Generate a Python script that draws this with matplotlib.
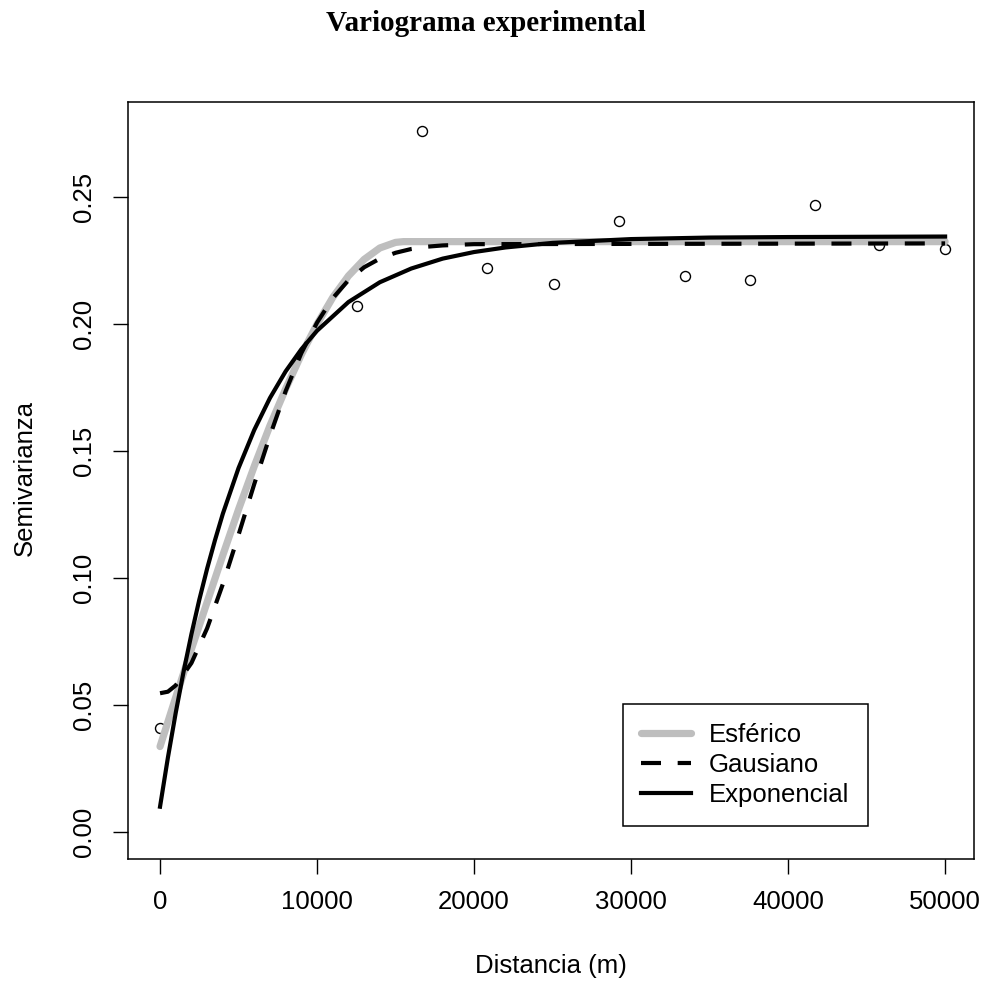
import matplotlib
matplotlib.use('Agg')
import matplotlib.pyplot as plt

# experimental variogram (points)
dist = [0, 12540, 16700, 20850, 25080, 29250, 33420, 37570, 41740, 45810, 50000]
gamma = [0.0410, 0.2073, 0.2762, 0.2223, 0.2160, 0.2406, 0.2191, 0.2173, 0.2468, 0.2313, 0.2297]

# fitted models
sph_x = [0, 1000, 2000, 3000, 4000, 5000, 6000, 7000, 8000, 9000, 10000,
         11000, 12000, 13000, 14000, 15000, 15500, 50000]
sph_y = [0.0336, 0.0530, 0.0720, 0.0905, 0.1090, 0.1270, 0.1440, 0.1600, 0.1745,
         0.1880, 0.2000, 0.2105, 0.2190, 0.2255, 0.2300, 0.2322, 0.2325, 0.2325]

gau_x = [0, 500, 1000, 2000, 3000, 4000, 5000, 6000, 7000, 8000, 9000, 10000,
         11000, 12000, 13000, 14000, 15000, 16000, 17000, 18000, 20000, 50000]
gau_y = [0.0546, 0.0552, 0.0577, 0.0665, 0.0802, 0.0976, 0.1170, 0.1370, 0.1560,
         0.1736, 0.1886, 0.2006, 0.2102, 0.2173, 0.2224, 0.2258, 0.2281, 0.2296,
         0.2305, 0.2310, 0.2315, 0.2318]

exp_x = [0, 500, 1000, 1500, 2000, 2500, 3000, 3500, 4000, 5000, 6000, 7000, 8000,
         9000, 10000, 12000, 14000, 16000, 18000, 20000, 22000, 25000, 30000,
         35000, 40000, 50000]
exp_y = [0.0099, 0.0292, 0.0469, 0.0631, 0.0779, 0.0914, 0.1037, 0.1149, 0.1253,
         0.1433, 0.1583, 0.1709, 0.1814, 0.1901, 0.1974, 0.2087, 0.2165, 0.2219,
         0.2258, 0.2284, 0.2302, 0.2320, 0.2335, 0.2341, 0.2343, 0.2345]

xticks = [0, 10000, 20000, 30000, 40000, 50000]
yticks = [0.00, 0.05, 0.10, 0.15, 0.20, 0.25]

W, H = 983, 985
fig = plt.figure(figsize=(W / 100, H / 100), dpi=100)
plt.rcParams['font.family'] = 'Liberation Sans'
fs = 18.5

l, r, t, b = 128, 974, 102, 859
ax = fig.add_axes([l / W, 1 - b / H, (r - l) / W, (b - t) / H])

ax.plot(dist, gamma, 'o', ms=7.2, mfc='none', mec='black', mew=1.0, zorder=2)
ax.plot(sph_x, sph_y, color='#bebebe', lw=5.2, solid_capstyle='round', label='Esférico', zorder=3)
ax.plot(gau_x, gau_y, color='black', lw=3.0, ls=(0, (4.8, 4.0)), label='Gausiano', zorder=4)
ax.plot(exp_x, exp_y, color='black', lw=3.0, label='Exponencial', zorder=5)

ax.set_xlim(-2040, 51840)
ax.set_ylim(-0.0107, 0.2875)
ax.set_xticks(xticks)
ax.set_xticklabels([str(v) for v in xticks])
ax.set_yticks(yticks)
ax.set_yticklabels(['%.2f' % v for v in yticks])
ax.tick_params(direction='out', length=11, width=1, labelsize=fs)
ax.tick_params(axis='x', pad=11)
ax.tick_params(axis='y', pad=21)
plt.setp(ax.get_yticklabels(), rotation=90, ha='center', va='center')
for s in ax.spines.values():
    s.set_linewidth(1.1)

leg = ax.legend(loc='upper right', bbox_to_anchor=(868 / W, 1 - 704 / H),
                bbox_transform=fig.transFigure, borderaxespad=0, fontsize=fs,
                fancybox=False, edgecolor='black', framealpha=1,
                handlelength=1.95, handletextpad=0.7, labelspacing=0.25, borderpad=0.72)
leg.get_frame().set_linewidth(1.1)

fig.text(486 / W, 1 - 31 / H, 'Variograma experimental', ha='center', va='baseline',
         family='Liberation Serif', fontweight='bold', fontsize=21)
fig.text((l + r) / 2 / W, 1 - 966 / H, 'Distancia (m)', ha='center', va='center', fontsize=fs)
fig.text(25 / W, 1 - 478 / H, 'Semivarianza', ha='center', va='center', rotation=90, fontsize=fs)

fig.savefig('out.png', dpi=100)
